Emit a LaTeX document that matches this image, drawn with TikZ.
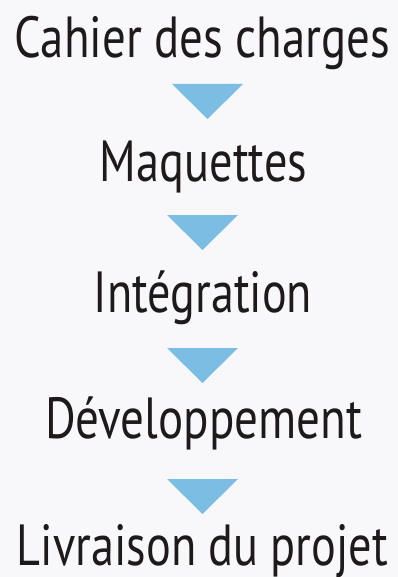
\documentclass[tikz,border=0pt]{standalone}
\usepackage{fontspec}
\setmainfont{PT Sans}
\usepackage{graphicx}
\definecolor{bg}{HTML}{F8F8FA}
\definecolor{tri}{HTML}{7BBDE3}
\definecolor{ink}{HTML}{1E1A1B}
\begin{document}
\begin{tikzpicture}[x=1pt,y=-1pt,
  step label/.style={anchor=base,inner sep=0pt,text=ink,font=\fontsize{58}{60}\selectfont},
  arrowtri/.style={fill=tri,draw=none}]
\fill[bg] (0,0) rectangle (398,577);
\useasboundingbox (0,0) rectangle (398,577);
\node[step label] (t1) at (202.5,58) {\resizebox{375pt}{\height}{Cahier des charges}};
\node[step label] (t2) at (203.5,182) {\resizebox{207pt}{\height}{Maquettes}};
\node[step label] (t3) at (203,312) {\resizebox{218pt}{\height}{Intégration}};
\node[step label] (t4) at (203.5,438) {\resizebox{317pt}{\height}{Développement}};
\node[step label] (t5) at (202.5,565) {\resizebox{371pt}{\height}{Livraison du projet}};
\fill[arrowtri] (172,84) -- (243,84) -- (207.5,119) -- cycle;
\fill[arrowtri] (167,215) -- (238,215) -- (202.5,250) -- cycle;
\fill[arrowtri] (167,348) -- (238,348) -- (202.5,383) -- cycle;
\fill[arrowtri] (167,479) -- (238,479) -- (202.5,514) -- cycle;
\end{tikzpicture}
\end{document}
